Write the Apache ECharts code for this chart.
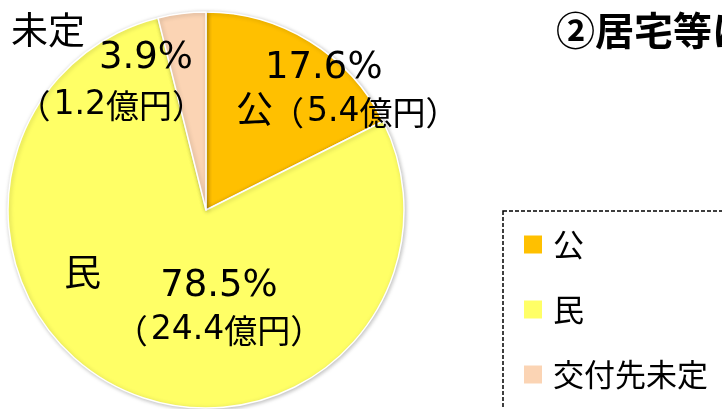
<!DOCTYPE html>
<html>
<head>
<meta charset="utf-8">
<script src="https://cdn.jsdelivr.net/npm/echarts@6/dist/echarts.min.js"></script>
<style>
    html, body { margin: 0; padding: 0; background: #fff; }
    #main { width: 722px; height: 409px; }
</style>
</head>
<body>
<div id="main"></div>
<script>
    // 交付先の内訳
    var names = ['公', '民', '交付先未定'];
    var shortNames = ['公', '民', '未定'];
    var percents = [17.6, 78.5, 3.9];
    var amounts = [5.4, 24.4, 1.2];   // 億円
    var colors = ['#FFC000', '#FFFF66', '#FBD4B4'];

    var latin = '"DejaVu Sans", "Noto Sans CJK JP", sans-serif';
    var cjk = '"Noto Sans CJK JP", sans-serif';

    // ラベル位置（手で合わせた）
    var valuePos = [
        {x: 265, y: 90, align: 'left'},
        {x: 219, y: 308, align: 'center'},
        {x: 205, y: 80, align: 'right'}
    ];
    var namePos = [
        {x: 236, y: 109},
        {x: 64, y: 272},
        {x: 11, y: 30}
    ];

    var chart = echarts.init(document.getElementById('main'));
    var pieData = names.map(function (n, i) {
        return {name: n, value: percents[i], itemStyle: {color: colors[i]}};
    });

    chart.setOption({
        animation: false,
        title: {
            text: '②居宅等における交付先',
            left: 551,
            top: 6,
            textStyle: {fontFamily: cjk, fontWeight: 'bold', fontSize: 39, color: '#000'}
        },
        legend: {
            data: names,
            orient: 'vertical',
            left: 503,
            top: 211,
            height: 300,
            padding: [18, 400, 40, 19],
            itemWidth: 20,
            itemHeight: 20,
            itemGap: 34,
            icon: 'rect',
            borderColor: '#000',
            borderWidth: 1.5,
            borderType: [4, 2],
            textStyle: {fontFamily: cjk, fontSize: 31, color: '#000', padding: [0, 0, 0, 5]}
        },
        series: [
            {
                type: 'pie',
                center: [206, 210],
                radius: [0, 198],
                startAngle: 90,
                clockwise: true,
                data: pieData,
                itemStyle: {
                    borderColor: '#fff',
                    borderWidth: 1.5,
                    shadowColor: 'rgba(0,0,0,0.25)',
                    shadowBlur: 4,
                    shadowOffsetX: 1,
                    shadowOffsetY: 1
                },
                label: {
                    show: true,
                    position: 'inside',
                    color: '#000',
                    formatter: function (p) {
                        var i = p.dataIndex;
                        var pc = i === 2 ? 'pr' : 'pc';
                        return '{' + pc + '|' + percents[i].toFixed(1) + '%}\n' +
                            '{' + (i === 0 ? 'bp' : 'b') + '|（}{n|' + amounts[i].toFixed(1) + '}{b|億円）}';
                    },
                    rich: {
                        pc: {fontFamily: latin, fontSize: 37, lineHeight: 44, color: '#000'},
                        pr: {fontFamily: latin, fontSize: 37, lineHeight: 50, color: '#000', padding: [0, 12, 0, 0]},
                        n: {fontFamily: latin, fontSize: 33, lineHeight: 44, color: '#000', padding: [0, 0, 0, 3]},
                        b: {fontFamily: cjk, fontSize: 33, lineHeight: 44, color: '#000'},
                        bp: {fontFamily: cjk, fontSize: 33, lineHeight: 44, color: '#000', padding: [0, 0, 0, 6]}
                    }
                },
                labelLine: {show: false},
                labelLayout: function (params) {
                    var p = valuePos[params.dataIndex];
                    return {x: p.x, y: p.y, align: p.align, verticalAlign: 'middle'};
                },
                emphasis: {disabled: true}
            },
            {
                // 名前だけのラベル
                type: 'pie',
                center: [206, 210],
                radius: [0, 198],
                startAngle: 90,
                silent: true,
                data: pieData.map(function (d) {
                    return {name: d.name, value: d.value, itemStyle: {color: 'rgba(0,0,0,0)'}};
                }),
                label: {
                    show: true,
                    position: 'inside',
                    color: '#000',
                    fontFamily: cjk,
                    fontSize: 37,
                    formatter: function (p) {
                        return shortNames[p.dataIndex];
                    }
                },
                labelLine: {show: false},
                labelLayout: function (params) {
                    var p = namePos[params.dataIndex];
                    return {x: p.x, y: p.y, align: 'left', verticalAlign: 'middle'};
                },
                emphasis: {disabled: true}
            }
        ]
    });
</script>
</body>
</html>
